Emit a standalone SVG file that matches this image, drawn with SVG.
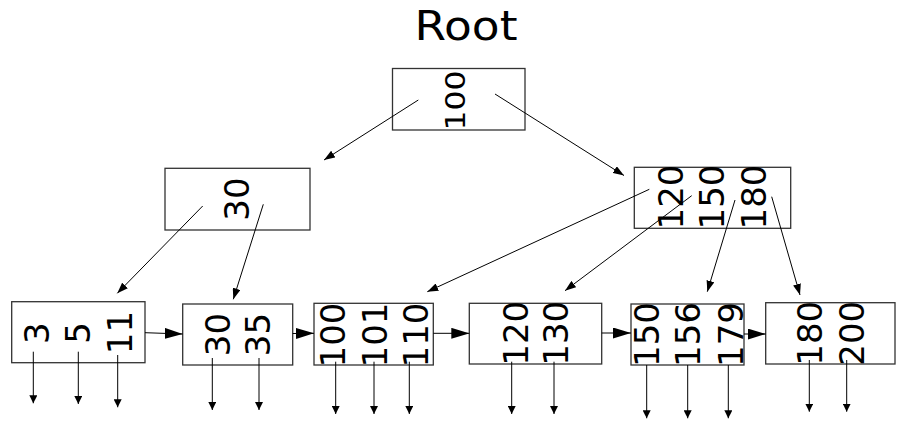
<svg xmlns="http://www.w3.org/2000/svg" width="906" height="427" viewBox="0 0 906 427">
<style>
.box{fill:#fff;stroke:#333;stroke-width:1.3}
.lbl{font-family:"DejaVu Sans",sans-serif;font-size:34px;fill:#000;text-anchor:middle}
.title{font-family:"DejaVu Sans",sans-serif;font-size:40px;fill:#000;text-anchor:middle}
.ln{stroke:#000;stroke-width:1;fill:none}
.big{marker-end:url(#aBig)}
.dn{marker-end:url(#aDown)}
.dg{marker-end:url(#aDiag)}
</style>
<defs>
<marker id="aBig" markerUnits="userSpaceOnUse" markerWidth="18" markerHeight="11" refX="18" refY="5.5" orient="auto"><path d="M0,0 L18,5.5 L0,11 z" fill="#000"/></marker>
<marker id="aDown" markerUnits="userSpaceOnUse" markerWidth="8" markerHeight="8" refX="8" refY="4" orient="auto"><path d="M0,0 L8,4 L0,8 z" fill="#000"/></marker>
<marker id="aDiag" markerUnits="userSpaceOnUse" markerWidth="11" markerHeight="8" refX="11" refY="4" orient="auto"><path d="M0,0 L11,4 L0,8 z" fill="#000"/></marker>
</defs>
<rect width="906" height="427" fill="#fff"/>
<text class="title" x="466" y="39.5" textLength="103" lengthAdjust="spacingAndGlyphs">Root</text>

<g id="root">
<rect class="box" x="392.5" y="68.5" width="132.5" height="61.5"/>
<text class="lbl" style="font-size:27px" transform="translate(465,100.5) rotate(-90)" textLength="60" lengthAdjust="spacingAndGlyphs">100</text>
</g>
<g id="n30">
<rect class="box" x="165" y="168.3" width="145" height="61.7"/>
<text class="lbl" transform="translate(249,199) rotate(-90)">30</text>
</g>
<g id="nR">
<rect class="box" x="634.3" y="167.3" width="156.4" height="61"/>
<text class="lbl" transform="translate(682.7,197) rotate(-90)">120</text>
<text class="lbl" transform="translate(724,197) rotate(-90)">150</text>
<text class="lbl" transform="translate(766,197) rotate(-90)">180</text>
</g>
<g id="leaf1">
<rect class="box" x="11.7" y="301.7" width="133.3" height="61"/>
<text class="lbl" transform="translate(49.3,333.3) rotate(-90)">3</text>
<text class="lbl" transform="translate(90,333) rotate(-90)">5</text>
<text class="lbl" transform="translate(131.7,332.5) rotate(-90)">11</text>
</g>
<g id="leaf2">
<rect class="box" x="182.7" y="304" width="110" height="61"/>
<text class="lbl" transform="translate(230,334.5) rotate(-90)">30</text>
<text class="lbl" transform="translate(270,334.5) rotate(-90)">35</text>
</g>
<g id="leaf3">
<rect class="box" x="314" y="303.3" width="119.3" height="61.7"/>
<text class="lbl" transform="translate(345,335) rotate(-90)">100</text>
<text class="lbl" transform="translate(386.7,335) rotate(-90)">101</text>
<text class="lbl" transform="translate(428.3,335) rotate(-90)">110</text>
</g>
<g id="leaf4">
<rect class="box" x="469.3" y="303.3" width="132.4" height="60.7"/>
<text class="lbl" transform="translate(528.3,333.3) rotate(-90)">120</text>
<text class="lbl" transform="translate(568.3,333.3) rotate(-90)">130</text>
</g>
<g id="leaf5">
<rect class="box" x="631" y="304" width="113" height="61"/>
<text class="lbl" transform="translate(659.3,334.5) rotate(-90)">150</text>
<text class="lbl" transform="translate(700,334.5) rotate(-90)">156</text>
<text class="lbl" transform="translate(742.7,334.5) rotate(-90)">179</text>
</g>
<g id="leaf6">
<rect class="box" x="765.7" y="302.7" width="129.3" height="61.3"/>
<text class="lbl" transform="translate(821.7,333.3) rotate(-90)">180</text>
<text class="lbl" transform="translate(864,333.3) rotate(-90)">200</text>
</g>

<g id="connectors">
<line class="ln dg" x1="418.3" y1="100" x2="324" y2="160"/>
<line class="ln dg" x1="495" y1="94" x2="624" y2="175.5"/>
<line class="ln dg" x1="202.7" y1="206" x2="117.3" y2="293.3"/>
<line class="ln dg" x1="263.3" y1="204.3" x2="233.3" y2="299.3"/>
<line class="ln dg" x1="649.3" y1="189.3" x2="427.3" y2="291.7"/>
<line class="ln dg" x1="691.7" y1="195.7" x2="565" y2="290.7"/>
<line class="ln dg" x1="735" y1="200" x2="707.3" y2="291.7"/>
<line class="ln dg" x1="771.7" y1="196.7" x2="800" y2="295"/>

<line class="ln big" x1="145" y1="332.7" x2="182.7" y2="334"/>
<line class="ln big" x1="292.7" y1="333.5" x2="314" y2="333.3"/>
<line class="ln big" x1="433.3" y1="333.3" x2="469.3" y2="333.3"/>
<line class="ln big" x1="601.7" y1="333" x2="631" y2="333"/>
<line class="ln big" x1="744" y1="334" x2="765.7" y2="334"/>

<line class="ln dn" x1="33.3" y1="351.7" x2="33.3" y2="403.3"/>
<line class="ln dn" x1="78.3" y1="351.7" x2="78.3" y2="404"/>
<line class="ln dn" x1="117.7" y1="355" x2="117.7" y2="407.3"/>
<line class="ln dn" x1="212.3" y1="358" x2="212.3" y2="410"/>
<line class="ln dn" x1="259" y1="358" x2="259" y2="410"/>
<line class="ln dn" x1="335.7" y1="361.7" x2="335.7" y2="414"/>
<line class="ln dn" x1="374" y1="361.7" x2="374" y2="414"/>
<line class="ln dn" x1="409.3" y1="361.7" x2="409.3" y2="414"/>
<line class="ln dn" x1="511.7" y1="361.7" x2="511.7" y2="414"/>
<line class="ln dn" x1="554" y1="361.7" x2="554" y2="414"/>
<line class="ln dn" x1="646.7" y1="365" x2="646.7" y2="418.3"/>
<line class="ln dn" x1="687.7" y1="365" x2="687.7" y2="418.3"/>
<line class="ln dn" x1="728.3" y1="365" x2="728.3" y2="418.3"/>
<line class="ln dn" x1="809.3" y1="360" x2="809.3" y2="411.7"/>
<line class="ln dn" x1="846.7" y1="360" x2="846.7" y2="411.7"/>
</g>
</svg>
